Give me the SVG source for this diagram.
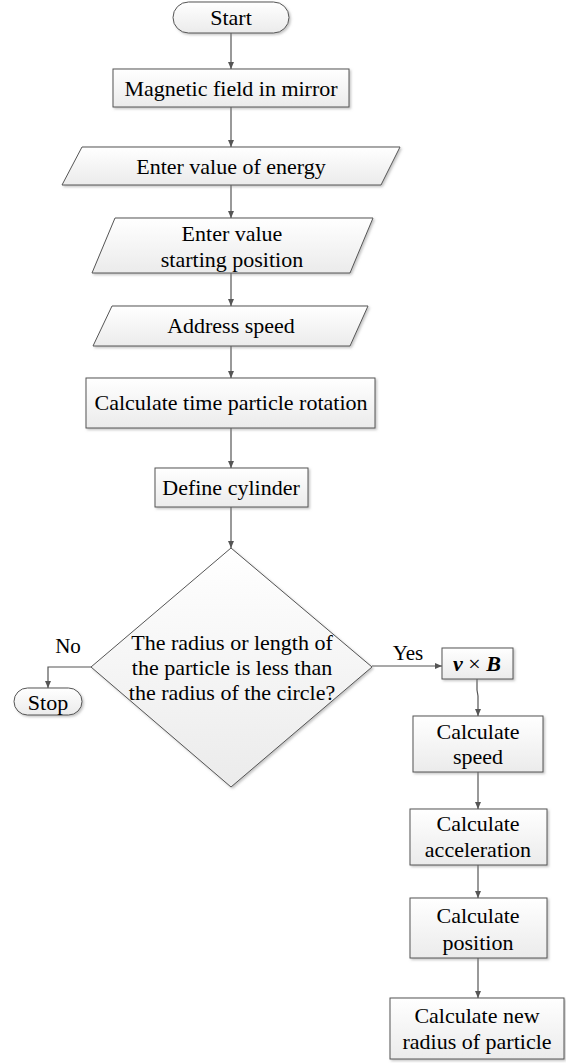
<svg xmlns="http://www.w3.org/2000/svg" width="566" height="1063" viewBox="0 0 566 1063">
<style>
.shape{fill:url(#g);stroke:#555555;stroke-width:1;filter:url(#sh)}
.t{font-size:22px;fill:#000;text-anchor:middle}
.lbl{font-size:21px;fill:#000;text-anchor:middle}
.c{fill:none;stroke:#555555;stroke-width:1.2;marker-end:url(#ah)}
</style>
<defs>
<linearGradient id="g" x1="0" y1="0" x2="0" y2="1">
<stop offset="0" stop-color="#ffffff"/>
<stop offset="1" stop-color="#ebebeb"/>
</linearGradient>
<filter id="sh" x="-10%" y="-10%" width="125%" height="130%">
<feDropShadow dx="1.5" dy="1.5" stdDeviation="1" flood-color="#888" flood-opacity="0.5"/>
</filter>
<marker id="ah" markerWidth="8" markerHeight="8" refX="7" refY="4" orient="auto" markerUnits="userSpaceOnUse">
<path d="M0,1 L7,4 L0,7 Z" fill="#555555"/>
</marker>
</defs>
<g font-family="Liberation Serif, Times New Roman, serif">
<g id="connectors">
<path class="c" d="M231,33 V69"/>
<path class="c" d="M231,107 V147"/>
<path class="c" d="M231,185 V218"/>
<path class="c" d="M231,273 V306"/>
<path class="c" d="M231,346 V378"/>
<path class="c" d="M231,428 V468"/>
<path class="c" d="M231,507 V548"/>
<path class="c" d="M91,667 H48 V688"/>
<path class="c" d="M372,666 H442"/>
<path class="c" d="M477,679 V690 L478,696 V716"/>
<path class="c" d="M478,772 V809"/>
<path class="c" d="M478,865 V898"/>
<path class="c" d="M478,958 V998"/>
<text class="lbl" x="68" y="653" font-family="Liberation Serif">No</text>
<text class="lbl" x="408" y="660" font-family="Liberation Serif">Yes</text>
</g>
<g id="start">
<rect class="shape" x="173" y="2" width="116" height="31" rx="15.5"/>
<text class="t" x="231" y="25" font-family="Liberation Serif">Start</text>
</g>
<g id="magnetic">
<rect class="shape" x="113" y="69" width="236" height="38"/>
<text class="t" x="231" y="96" font-family="Liberation Serif">Magnetic field in mirror</text>
</g>
<g id="energy">
<polygon class="shape" points="82,147 400,147 381,185 62,185"/>
<text class="t" x="231" y="174" font-family="Liberation Serif">Enter value of energy</text>
</g>
<g id="startpos">
<polygon class="shape" points="115,218 373,218 350,273 92,273"/>
<text class="t" x="232" y="241" font-family="Liberation Serif">Enter value</text>
<text class="t" x="232" y="267" font-family="Liberation Serif">starting position</text>
</g>
<g id="address">
<polygon class="shape" points="112,306 368,306 350,346 93,346"/>
<text class="t" x="231" y="333" font-family="Liberation Serif">Address speed</text>
</g>
<g id="calctime">
<rect class="shape" x="86" y="378" width="289" height="50"/>
<text class="t" x="231" y="410" font-family="Liberation Serif">Calculate time particle rotation</text>
</g>
<g id="cylinder">
<rect class="shape" x="155" y="468" width="153" height="39"/>
<text class="t" x="231" y="495" font-family="Liberation Serif">Define cylinder</text>
</g>
<g id="decision">
<polygon class="shape" points="231,548 372,667 231,787 91,667"/>
<text class="t" x="232" y="650" font-family="Liberation Serif">The radius or length of</text>
<text class="t" x="232" y="675" font-family="Liberation Serif">the particle is less than</text>
<text class="t" x="232" y="700" font-family="Liberation Serif">the radius of the circle?</text>
</g>
<g id="stop">
<rect class="shape" x="14" y="688" width="68" height="27" rx="13.5"/>
<text class="t" x="48" y="710" font-family="Liberation Serif">Stop</text>
</g>
<g id="vxb">
<rect class="shape" x="442" y="648" width="71" height="31"/>
<text class="t" x="477" y="671" font-family="Liberation Serif"><tspan font-weight="bold" font-style="italic">v</tspan> × <tspan font-weight="bold" font-style="italic">B</tspan></text>
</g>
<g id="speed">
<rect class="shape" x="413" y="716" width="130" height="56"/>
<text class="t" x="478" y="739" font-family="Liberation Serif">Calculate</text>
<text class="t" x="478" y="764" font-family="Liberation Serif">speed</text>
</g>
<g id="accel">
<rect class="shape" x="410" y="809" width="137" height="56"/>
<text class="t" x="478" y="831" font-family="Liberation Serif">Calculate</text>
<text class="t" x="478" y="857" font-family="Liberation Serif">acceleration</text>
</g>
<g id="position">
<rect class="shape" x="410" y="898" width="137" height="60"/>
<text class="t" x="478" y="923" font-family="Liberation Serif">Calculate</text>
<text class="t" x="478" y="950" font-family="Liberation Serif">position</text>
</g>
<g id="newradius">
<rect class="shape" x="390" y="998" width="174" height="61"/>
<text class="t" x="477" y="1023" font-family="Liberation Serif">Calculate new</text>
<text class="t" x="477" y="1049" font-family="Liberation Serif">radius of particle</text>
</g>
</g>
</svg>
